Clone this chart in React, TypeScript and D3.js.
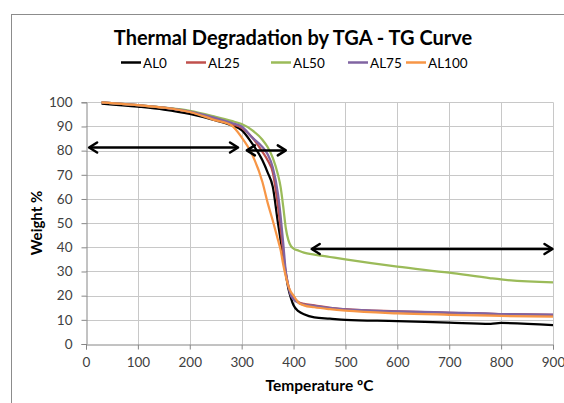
import { useEffect, useRef } from 'react'
import * as d3 from 'd3'

const temps = [30, 100, 150, 200, 250, 280, 300, 320, 340, 350, 360, 370, 375, 380, 385, 390, 395, 400, 410, 420, 440, 470, 500, 600, 700, 780, 800, 900]

const al0 = [99.5, 98.2, 97, 95.2, 92.5, 90.5, 88.5, 83, 76, 71, 65, 50, 43, 36, 29, 23, 19, 16, 13.5, 12.3, 11, 10.5, 10, 9.5, 8.8, 8.3, 8.7, 7.8]
const al25 = [100, 98.8, 97.8, 96, 93, 91, 89.5, 85.5, 79.5, 76, 71, 57, 48, 38, 29.5, 24, 20.5, 19, 17.3, 16.6, 16, 15, 14.4, 13.5, 12.9, 12.5, 12.4, 12.1]
const al50 = [100, 98.8, 97.8, 96.5, 94, 92.3, 91, 88.5, 84.5, 81.5, 77, 70, 65, 57, 48, 43, 40.5, 39.5, 38.6, 37.8, 37, 36, 35, 32, 29.5, 27.2, 26.7, 25.5]
const al75 = [100, 98.8, 97.8, 96.2, 93.5, 91.5, 90, 85.5, 81.5, 78.5, 73, 62, 53, 42, 30, 24, 20, 18.5, 17, 16.3, 15.8, 14.9, 14.3, 13.5, 13, 12.6, 12.4, 12.2]
const al100 = [100, 98.8, 97.8, 96, 92.5, 90.5, 85.5, 78.5, 67, 58.5, 51, 43, 39, 33, 28, 24, 21.5, 20, 17, 16, 15.2, 14.4, 13.8, 12.7, 12.1, 11.7, 11.6, 11.3]

const seriesNames = ['AL0', 'AL25', 'AL50', 'AL75', 'AL100']
const seriesValues = [al0, al25, al50, al75, al100]
const seriesColors = ['#000000', '#c0504d', '#9bbb59', '#8064a2', '#f79646']

const xTicks = [0, 100, 200, 300, 400, 500, 600, 700, 800, 900]
const yTicks = [0, 10, 20, 30, 40, 50, 60, 70, 80, 90, 100]

// double-headed arrows marking the stages (data units)
const arrowStart = [6, 310, 435]
const arrowEnd = [293, 385, 899]
const arrowLevel = [81.3, 80.1, 39.3]

const W = 564
const H = 403
const FONT = 'Lato, "Open Sans", sans-serif'

export default function App() {
  const svgRef = useRef<SVGSVGElement>(null)

  useEffect(() => {
    if (!svgRef.current) return
    const svg = d3.select(svgRef.current)
    svg.selectAll('*').remove()

    const x = d3.scaleLinear().domain([0, 900]).range([86, 553])
    const y = d3.scaleLinear().domain([0, 100]).range([344, 102.3])

    svg.append('rect').attr('width', W).attr('height', H).attr('fill', '#fff')
    svg.append('rect')
      .attr('x', 11.5).attr('y', 14.5)
      .attr('width', 700).attr('height', 500)
      .attr('fill', 'none').attr('stroke', '#8c8c8c').attr('stroke-width', 1)

    // title
    svg.append('text')
      .attr('x', 293).attr('y', 45)
      .attr('text-anchor', 'middle')
      .attr('font-family', FONT).attr('font-weight', 'bold').attr('font-size', 20)
      .attr('fill', '#000')
      .text('Thermal Degradation by TGA - TG Curve')

    // legend
    const legendX = [121, 186, 271, 348, 406]
    seriesNames.forEach((name, i) => {
      const lg = svg.append('g').attr('transform', `translate(${legendX[i]},62.5)`)
      lg.append('line').attr('x1', 0).attr('x2', 20).attr('y1', 0).attr('y2', 0)
        .attr('stroke', seriesColors[i]).attr('stroke-width', 2.5)
      lg.append('text').attr('x', 22).attr('y', 5)
        .attr('font-family', FONT).attr('font-size', 13.5).attr('fill', '#000')
        .text(name)
    })

    // grid
    const grid = svg.append('g')
    grid.selectAll('line.h').data(yTicks.slice(1)).join('line')
      .attr('x1', 86).attr('x2', 553)
      .attr('y1', d => Math.round(y(d)) + 0.5).attr('y2', d => Math.round(y(d)) + 0.5)
      .attr('stroke', '#c8c8c8').attr('stroke-width', 1)
    grid.selectAll('line.v').data(xTicks.slice(1)).join('line')
      .attr('y1', 102.3).attr('y2', 344)
      .attr('x1', d => Math.round(x(d)) + 0.5).attr('x2', d => Math.round(x(d)) + 0.5)
      .attr('stroke', '#c8c8c8').attr('stroke-width', 1)

    // axes
    const xAxis = svg.append('g').attr('transform', 'translate(0,344.5)')
      .call(d3.axisBottom(x).tickValues(xTicks).tickSize(5).tickPadding(8))
    const yAxis = svg.append('g').attr('transform', 'translate(86.5,0)')
      .call(d3.axisLeft(y).tickValues(yTicks).tickSize(5).tickPadding(9))
    for (const ax of [xAxis, yAxis]) {
      ax.select('.domain').attr('stroke', '#868686')
      ax.selectAll('.tick line').attr('stroke', '#868686')
      ax.selectAll('.tick text')
        .attr('font-family', FONT).attr('font-size', 13.5).attr('fill', '#404040')
    }

    // axis titles
    svg.append('text')
      .attr('x', 319.5).attr('y', 391)
      .attr('text-anchor', 'middle')
      .attr('font-family', FONT).attr('font-weight', 'bold').attr('font-size', 15.5)
      .text('Temperature ºC')
    svg.append('text')
      .attr('transform', 'translate(42,223) rotate(-90)')
      .attr('text-anchor', 'middle')
      .attr('font-family', FONT).attr('font-weight', 'bold').attr('font-size', 15)
      .text('Weight %')

    // curves
    const line = d3.line<number>()
      .x((_, i) => x(temps[i]))
      .y(d => y(d))
      .curve(d3.curveMonotoneX)
    seriesValues.forEach((vals, i) => {
      svg.append('path')
        .attr('d', line(vals))
        .attr('fill', 'none')
        .attr('stroke', seriesColors[i])
        .attr('stroke-width', 2.25)
        .attr('stroke-linejoin', 'round')
    })

    // arrows
    arrowStart.forEach((s, i) => {
      const x1 = x(s)
      const x2 = x(arrowEnd[i])
      const yy = y(arrowLevel[i])
      const g = svg.append('g').attr('stroke', '#000').attr('stroke-width', 2.5)
        .attr('fill', 'none').attr('stroke-linecap', 'round').attr('stroke-linejoin', 'round')
      g.append('line').attr('x1', x1 + 1).attr('x2', x2 - 1).attr('y1', yy).attr('y2', yy)
      g.append('path').attr('d', `M${x1 + 8},${yy - 5} L${x1},${yy} L${x1 + 8},${yy + 5}`)
      g.append('path').attr('d', `M${x2 - 8},${yy - 5} L${x2},${yy} L${x2 - 8},${yy + 5}`)
    })
  }, [])

  return (
    <div style={{ position: 'absolute', left: 0, top: 0 }}>
      <svg ref={svgRef} width={W} height={H} style={{ display: 'block' }} />
    </div>
  )
}
